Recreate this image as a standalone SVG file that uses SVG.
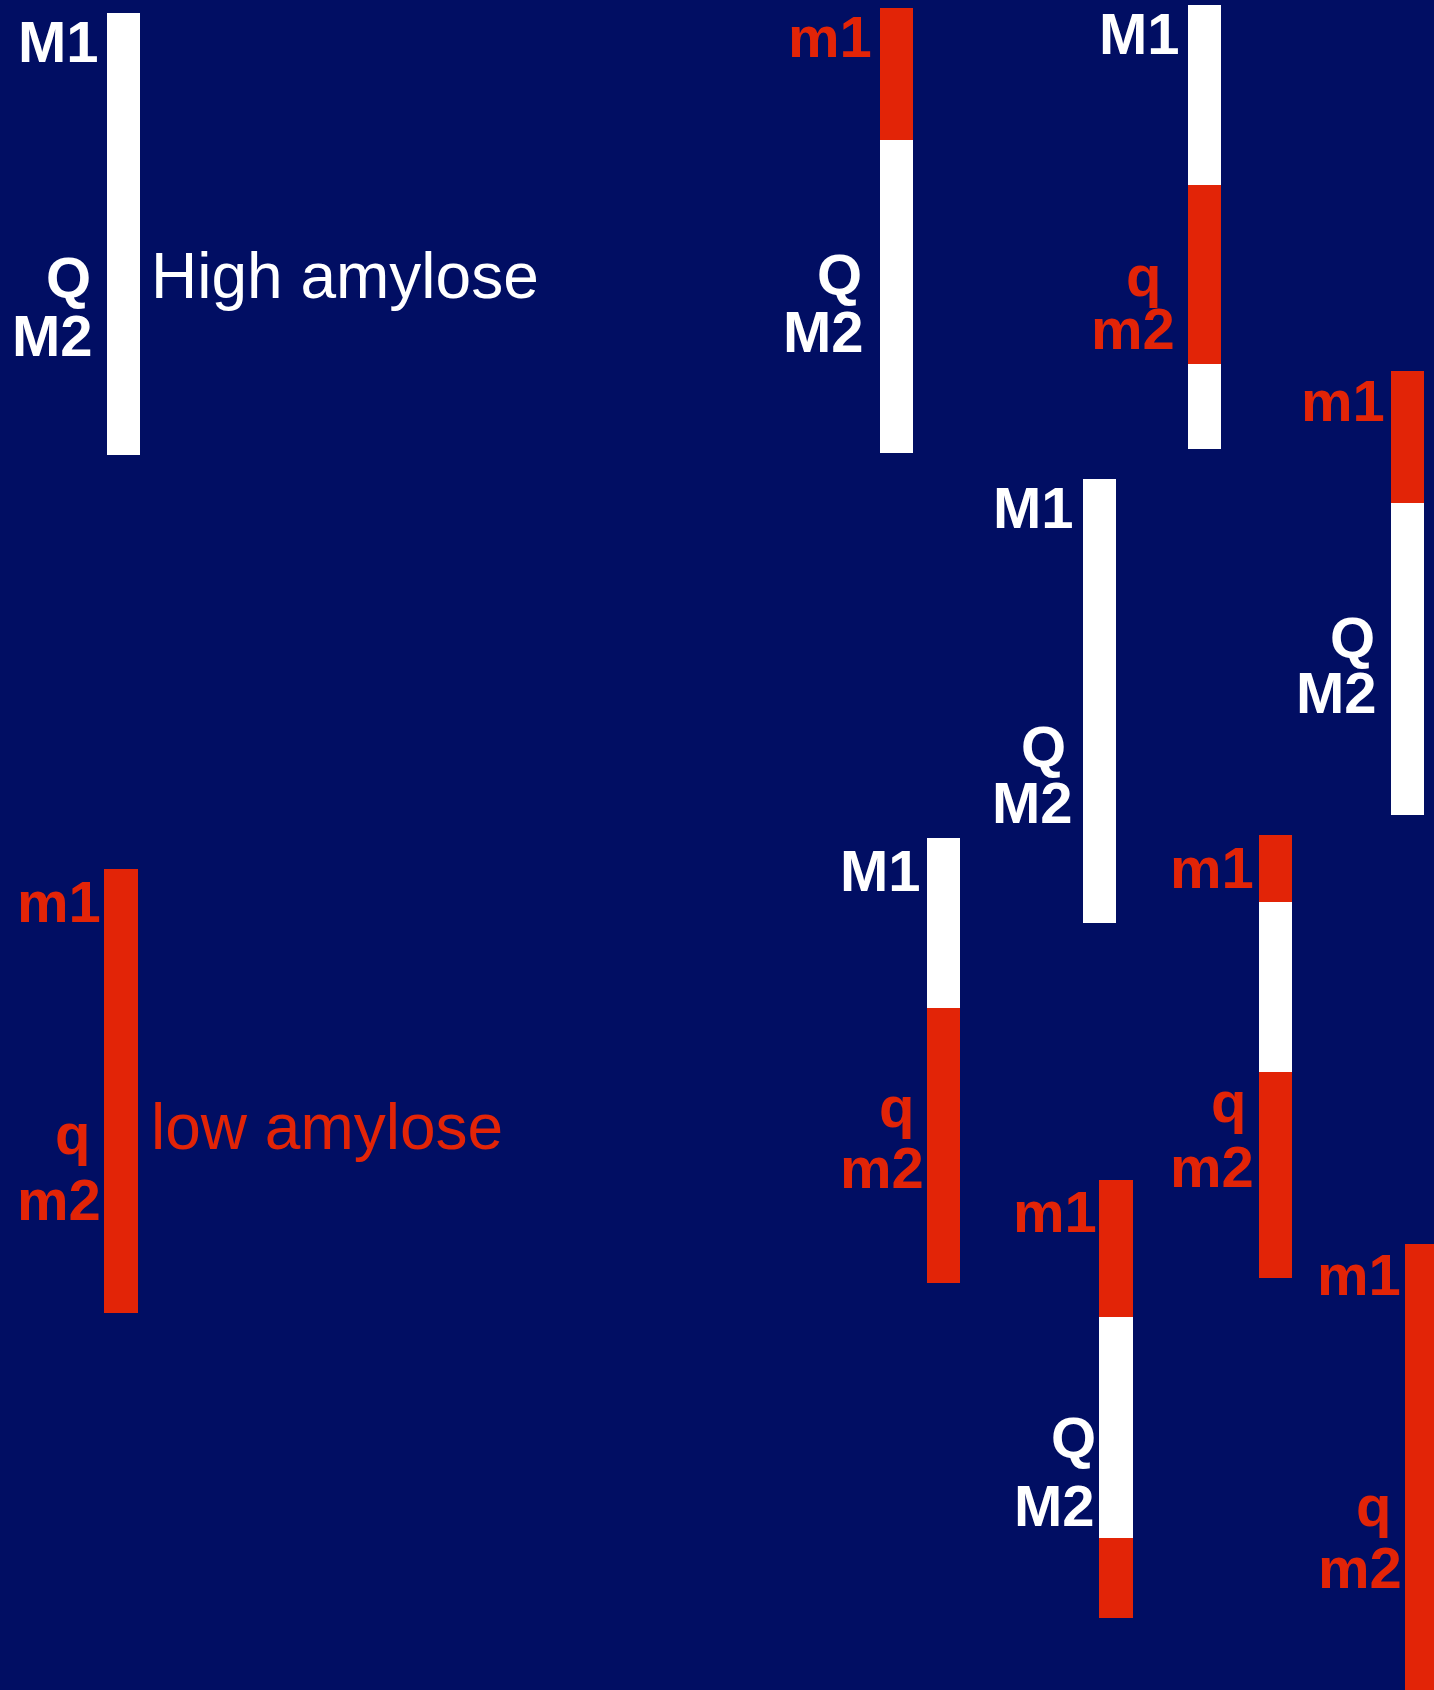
<svg xmlns="http://www.w3.org/2000/svg" width="1434" height="1690" viewBox="0 0 1434 1690">
<style>
.lbl{font-family:"Liberation Sans",Arial,Helvetica,sans-serif;font-weight:bold;font-size:58px}
.w{fill:#ffffff}
.r{fill:#e22407}
.big{font-family:"Liberation Sans",Arial,Helvetica,sans-serif;font-size:64px}
</style>
<rect x="0" y="0" width="1434" height="1690" fill="#010e63"/>
<g id="chr1">
<rect class="w" x="107" y="13" width="33" height="442"/>
<text class="lbl w" x="18" y="62">M1</text>
<text class="lbl w" x="46" y="298">Q</text>
<text class="lbl w" x="12" y="356">M2</text>
<text class="big w" x="151" y="298">High amylose</text>
</g>
<g id="chr2">
<rect class="r" x="880" y="8" width="33" height="132"/>
<rect class="w" x="880" y="140" width="33" height="313"/>
<text class="lbl r" x="788" y="57">m1</text>
<text class="lbl w" x="817" y="295">Q</text>
<text class="lbl w" x="783" y="352">M2</text>
</g>
<g id="chr3">
<rect class="w" x="1188" y="5" width="33" height="180"/>
<rect class="r" x="1188" y="185" width="33" height="179"/>
<rect class="w" x="1188" y="364" width="33" height="85"/>
<text class="lbl w" x="1099" y="54">M1</text>
<text class="lbl r" x="1126" y="296">q</text>
<text class="lbl r" x="1091" y="349">m2</text>
</g>
<g id="chr4">
<rect class="r" x="1391" y="371" width="33" height="132"/>
<rect class="w" x="1391" y="503" width="33" height="312"/>
<text class="lbl r" x="1301" y="421">m1</text>
<text class="lbl w" x="1330" y="658">Q</text>
<text class="lbl w" x="1296" y="713">M2</text>
</g>
<g id="chr5">
<rect class="w" x="1083" y="479" width="33" height="444"/>
<text class="lbl w" x="993" y="528">M1</text>
<text class="lbl w" x="1021" y="767">Q</text>
<text class="lbl w" x="992" y="823">M2</text>
</g>
<g id="chr6">
<rect class="r" x="104" y="869" width="34" height="444"/>
<text class="lbl r" x="17" y="922">m1</text>
<text class="lbl r" x="55" y="1154">q</text>
<text class="lbl r" x="17" y="1220">m2</text>
<text class="big r" x="151" y="1149">low amylose</text>
</g>
<g id="chr7">
<rect class="w" x="927" y="838" width="33" height="170"/>
<rect class="r" x="927" y="1008" width="33" height="275"/>
<text class="lbl w" x="840" y="891">M1</text>
<text class="lbl r" x="879" y="1127">q</text>
<text class="lbl r" x="840" y="1188">m2</text>
</g>
<g id="chr8">
<rect class="r" x="1259" y="835" width="33" height="67"/>
<rect class="w" x="1259" y="902" width="33" height="170"/>
<rect class="r" x="1259" y="1072" width="33" height="206"/>
<text class="lbl r" x="1170" y="888">m1</text>
<text class="lbl r" x="1211" y="1122">q</text>
<text class="lbl r" x="1170" y="1187">m2</text>
</g>
<g id="chr9">
<rect class="r" x="1099" y="1180" width="34" height="137"/>
<rect class="w" x="1099" y="1317" width="34" height="221"/>
<rect class="r" x="1099" y="1538" width="34" height="80"/>
<text class="lbl r" x="1013" y="1232">m1</text>
<text class="lbl w" x="1051" y="1458">Q</text>
<text class="lbl w" x="1014" y="1526">M2</text>
</g>
<g id="chr10">
<rect class="r" x="1405" y="1244" width="33" height="450"/>
<text class="lbl r" x="1317" y="1295">m1</text>
<text class="lbl r" x="1356" y="1526">q</text>
<text class="lbl r" x="1318" y="1588">m2</text>
</g>
</svg>
